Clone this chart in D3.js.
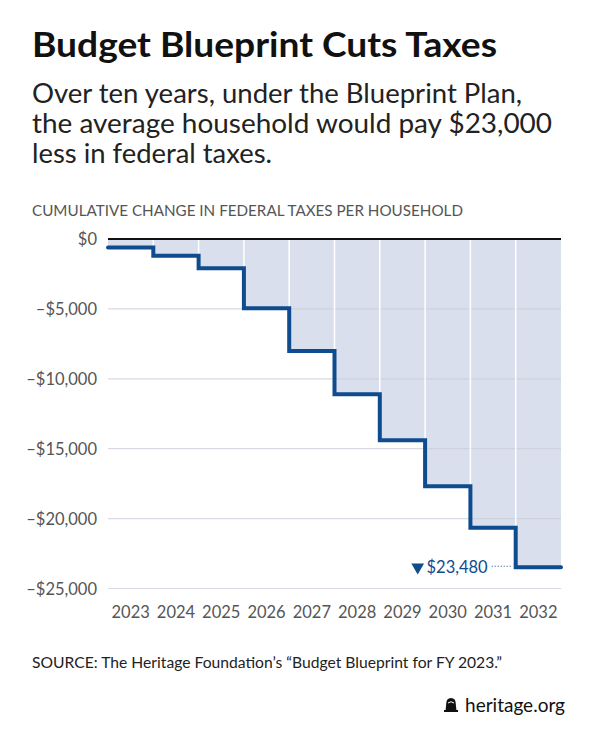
<!DOCTYPE html>
<html><head><meta charset="utf-8">
<script src="https://cdn.jsdelivr.net/npm/d3@7"></script>
<style>body{margin:0;background:#fff}svg{display:block}</style>
</head><body>
<svg id="c" width="600" height="750"></svg>
<script>
const years = ["2023","2024","2025","2026","2027","2028","2029","2030","2031","2032"];
const values = [-600,-1200,-2100,-4960,-8020,-11100,-14390,-17680,-20660,-23480];
const yTicks = [0,-5000,-10000,-15000,-20000,-25000];
const yTickLabels = ["$0","–$5,000","–$10,000","–$15,000","–$20,000","–$25,000"];
const titleText = "Budget Blueprint Cuts Taxes";
const subtitleLines = ["Over ten years, under the Blueprint Plan,","the average household would pay $23,000","less in federal taxes."];
const axisTitle = "CUMULATIVE CHANGE IN FEDERAL TAXES PER HOUSEHOLD";
const sourceText = "SOURCE: The Heritage Foundation’s “Budget Blueprint for FY 2023.”";
const annotation = "$23,480";

(function(){
const svg = d3.select("#c");
const pL = 108, pR = 561, pT = 239, pB = 588.5;
const x = d3.scaleBand().domain(years).range([pL, pR]).padding(0);
const y = d3.scaleLinear().domain([0, -25000]).range([pT, pB]);
const bw = x.bandwidth();
const blue = "#0e4b8f";

// titles
svg.append("text").attr("x",32).attr("y",57).text(titleText)
  .attr("font-family","Lato").attr("font-weight",700).attr("font-size",34).attr("fill","#111")
  .attr("textLength",465).attr("lengthAdjust","spacingAndGlyphs");
const subW = [490, 520, 240];
subtitleLines.forEach((t,i)=>{
  svg.append("text").attr("x",32).attr("y",103+i*30).text(t)
    .attr("font-family","Lato").attr("font-size",26).attr("fill","#222")
    .attr("textLength",subW[i]).attr("lengthAdjust","spacingAndGlyphs");
});
svg.append("text").attr("x",32).attr("y",216).text(axisTitle)
  .attr("font-family","Lato").attr("font-size",15).attr("fill","#555")
  .attr("textLength",431).attr("lengthAdjust","spacingAndGlyphs");

// data points
const pts = [];
years.forEach((yr,i)=>{ pts.push([x(yr), values[i]]); pts.push([x(yr)+bw, values[i]]); });

// fill
svg.append("path").datum(pts)
  .attr("d", d3.area().x(d=>d[0]).y0(y(0)).y1(d=>y(d[1])))
  .attr("fill","#d9dfec");

// horizontal gridlines
const g = svg.append("g");
g.selectAll("line.h").data(yTicks.slice(1)).join("line")
  .attr("x1",pL).attr("x2",pR).attr("y1",d=>y(d)).attr("y2",d=>y(d))
  .attr("stroke","#c9ceda").attr("stroke-opacity",0.75).attr("stroke-width",1.2);

// vertical white separators inside fill
g.selectAll("line.v").data(years.slice(1)).join("line")
  .attr("x1",d=>x(d)).attr("x2",d=>x(d))
  .attr("y1",y(0)).attr("y2",(d,i)=>y(values[i]))
  .attr("stroke","#fff").attr("stroke-width",1.5);

// y axis labels
const yAxis = d3.axisLeft(y).tickValues(yTicks).tickFormat((d,i)=>yTickLabels[i]).tickSize(0).tickPadding(11);
const ya = svg.append("g").attr("transform",`translate(${pL},0)`).call(yAxis);
ya.select(".domain").remove();
ya.selectAll("text").attr("font-family","Lato").attr("font-size",16.5).attr("fill","#555").attr("dy","0.35em");

// x axis labels
const xAxis = d3.axisBottom(x).tickSize(0).tickPadding(0);
const xa = svg.append("g").attr("transform",`translate(0,${pB+29})`).call(xAxis);
xa.select(".domain").remove();
xa.selectAll("text").attr("font-family","Lato").attr("font-size",16.5).attr("fill","#555").attr("dy",0);

// zero line
svg.append("line").attr("x1",pL).attr("x2",pR).attr("y1",y(0)).attr("y2",y(0))
  .attr("stroke","#111").attr("stroke-width",2);

// step line
svg.append("path").datum(pts)
  .attr("d", d3.line().x(d=>d[0]).y(d=>y(d[1])))
  .attr("fill","none").attr("stroke",blue).attr("stroke-width",4)
  .attr("stroke-linecap","round").attr("stroke-linejoin","miter");

// annotation
const last = values[values.length-1];
const ay = y(last);
const lastX = x(years[years.length-1]);
svg.append("line").attr("x1",lastX-24).attr("x2",lastX-5).attr("y1",ay-1).attr("y2",ay-1)
  .attr("stroke",blue).attr("stroke-width",1).attr("stroke-dasharray","1,2");
svg.append("text").attr("x",lastX-28).attr("y",ay+6).attr("text-anchor","end").text(annotation)
  .attr("font-family","Lato").attr("font-size",16.5).attr("fill",blue);
svg.append("path").attr("d",d3.symbol(d3.symbolTriangle,70)())
  .attr("transform",`translate(${lastX-98},${ay}) rotate(180)`).attr("fill",blue);

// source
svg.append("text").attr("x",32).attr("y",668).text(sourceText)
  .attr("font-family","Lato").attr("font-size",15.5).attr("fill","#222")
  .attr("textLength",470).attr("lengthAdjust","spacingAndGlyphs");

// logo
svg.append("text").attr("x",565).attr("y",712).attr("text-anchor","end").text("heritage.org")
  .attr("font-family","Lato").attr("font-size",19).attr("fill","#111");
const bell = svg.append("g").attr("transform","translate(451,705)");
bell.append("path").attr("d","M-5.5,6 L-4.8,-1 Q-4.8,-7 0,-7 Q4.8,-7 4.8,-1 L5.5,6 Z").attr("fill","#111");
bell.append("rect").attr("x",-7).attr("y",5).attr("width",14).attr("height",2).attr("fill","#111");
bell.append("path").attr("d","M-3,-2 Q0,-4.5 3,-2").attr("fill","none").attr("stroke","#fff").attr("stroke-width",1);
})();
</script>
</body></html>
